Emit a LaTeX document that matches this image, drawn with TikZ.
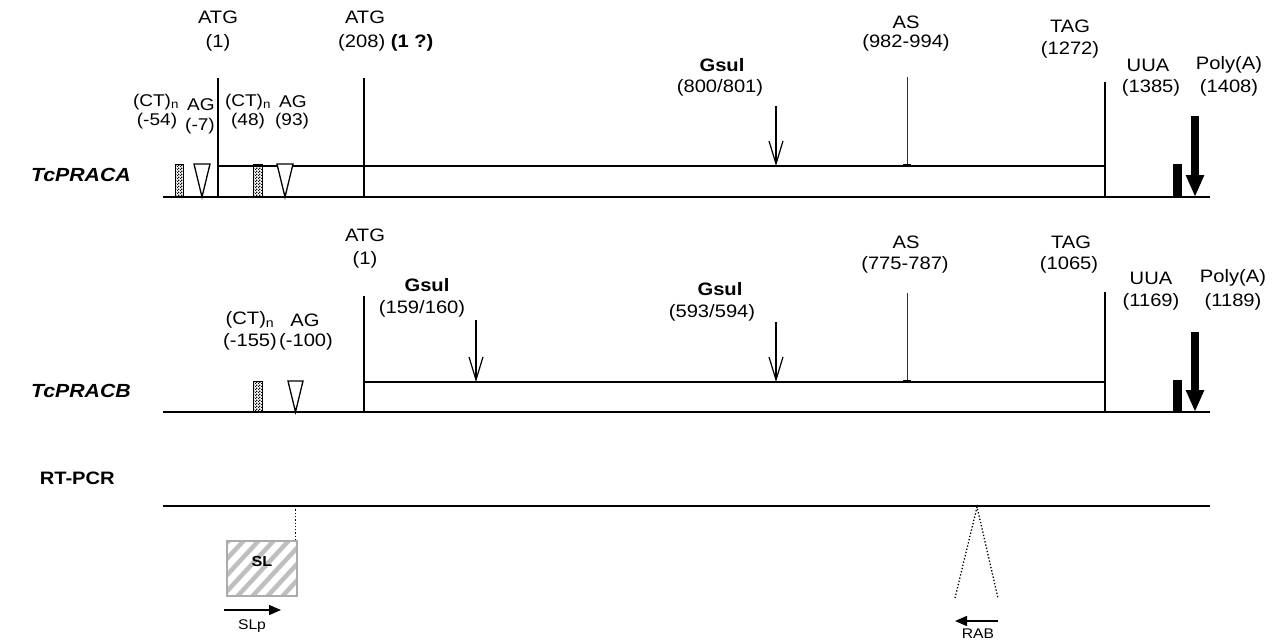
\documentclass[tikz,border=0pt]{standalone}
\usepackage{fontspec}
\setmainfont{Liberation Sans}[FakeStretch=1.12]
\usetikzlibrary{arrows.meta,patterns}
\pgfdeclarepatternformonly{finecheck}{\pgfqpoint{0pt}{0pt}}{\pgfqpoint{3pt}{3pt}}{\pgfqpoint{3pt}{3pt}}{%
  \pgfpathrectangle{\pgfqpoint{0pt}{0pt}}{\pgfqpoint{1.5pt}{1.5pt}}%
  \pgfpathrectangle{\pgfqpoint{1.5pt}{1.5pt}}{\pgfqpoint{1.5pt}{1.5pt}}%
  \pgfusepath{fill}}
\begin{document}
\begin{tikzpicture}[x=1pt,y=-1pt,
  lbl/.style={inner sep=0pt, font=\fontsize{18}{20}\selectfont},
  slbl/.style={inner sep=0pt, font=\fontsize{17}{19}\selectfont},
  blbl/.style={inner sep=0pt, font=\fontsize{18}{20}\selectfont\bfseries},
  gene/.style={inner sep=0pt, anchor=east, font=\fontsize{19}{21}\selectfont\bfseries\itshape},
  rowlbl/.style={inner sep=0pt, anchor=east, font=\fontsize{18}{20}\selectfont\bfseries},
  small/.style={inner sep=0pt, font=\fontsize{14}{16}\selectfont},
  sbold/.style={inner sep=0pt, font=\fontsize{14.5}{16}\selectfont\bfseries},
  baseln/.style={line width=2pt},
  boxln/.style={line width=1.8pt},
  vline/.style={line width=1.5pt},
  asline/.style={line width=1pt, black!80},
  gsarrow/.style={line width=1.2pt, -{Straight Barb[length=23pt,width=14pt]}},
  polyarrow/.style={line width=8pt, -{Triangle[length=22pt,width=17pt]}},
  checker/.style={pattern=finecheck, draw=black, line width=0.5pt},
  agtri/.style={line width=1.3pt, fill=white},
  dotln/.style={dotted, line width=1.3pt},
  primer/.style={line width=1.5pt, -{Triangle[length=12pt,width=10pt]}}
]
\useasboundingbox (0,0) rectangle (1279,641);

% ---------------- TcPRACA ----------------
\node[gene] (geneA) at (131,175) {TcPRACA};
\draw[baseln] (163,197) -- (218,197);
\draw[boxln] (218,166) rectangle (1105,197);
\draw[baseln] (1105,197) -- (1210,197);
\coordinate (atgA1t) at (218,78); \coordinate (atgA1b) at (218,197);
\coordinate (atgA2t) at (364,78); \coordinate (atgA2b) at (364,197);
\draw[vline] (atgA1t) -- (atgA1b);
\draw[vline] (atgA2t) -- (atgA2b);
\node[lbl] (tA1) at (218,17) {ATG};
\node[lbl] (tA1n) at (218,43) {(1)};
\node[lbl] (tA2) at (365,17) {ATG};
\node[lbl, anchor=west] (tA2n) at (338,43) {(208) \textbf{(1 ?)}};
\path[checker] (175,164) rectangle (183,197);
\draw[agtri] (194,164) -- (210,164) -- (202,197) -- cycle;
\path[checker] (253,164) rectangle (262,197);
\draw[agtri] (277,164) -- (293,164) -- (285,197) -- cycle;
\node[slbl] (ctA1) at (156,102) {(CT)\textsubscript{n}};
\node[slbl] (ctA1n) at (157,121) {(-54)};
\node[slbl] (agA1) at (201,105) {AG};
\node[slbl] (agA1n) at (200,126) {(-7)};
\node[slbl] (ctA2) at (248,102) {(CT)\textsubscript{n}};
\node[slbl] (ctA2n) at (248,121) {(48)};
\node[slbl] (agA2) at (293,102) {AG};
\node[slbl] (agA2n) at (292,121) {(93)};
\coordinate (gsA1t) at (776,106); \coordinate (gsA1b) at (776,166);
\draw[gsarrow] (gsA1t) -- (gsA1b);
\node[blbl] (gA1) at (722,65) {Gsul};
\node[lbl] (gA1n) at (720,88) {(800/801)};
\coordinate (asAt) at (907,77); \coordinate (asAb) at (907,166);
\draw[asline] (asAt) -- (asAb);
\draw[line width=3pt] (903,165) -- (911,165);
\node[lbl] (asA) at (906,22) {AS};
\node[lbl] (asAn) at (906,43) {(982-994)};
\coordinate (tagAt) at (1105,82); \coordinate (tagAb) at (1105,197);
\draw[vline] (tagAt) -- (tagAb);
\node[lbl] (tagA) at (1070,26) {TAG};
\node[lbl] (tagAn) at (1070,50) {(1272)};
\fill (1173,164) rectangle (1182,197);
\coordinate (polyAt) at (1195,116); \coordinate (polyAb) at (1195,197);
\draw[polyarrow] (polyAt) -- (polyAb);
\node[lbl] (uuaA) at (1148,65) {UUA};
\node[lbl] (uuaAn) at (1151,88) {(1385)};
\node[lbl] (polyA) at (1229,65) {Poly(A)};
\node[lbl] (polyAn) at (1229,88) {(1408)};

% ---------------- TcPRACB ----------------
\node[gene] (geneB) at (131,391) {TcPRACB};
\draw[baseln] (163,412) -- (364,412);
\draw[boxln] (364,382) rectangle (1105,412);
\draw[baseln] (1105,412) -- (1210,412);
\coordinate (atgBt) at (364,296); \coordinate (atgBb) at (364,412);
\draw[vline] (atgBt) -- (atgBb);
\node[lbl] (tB1) at (365,235) {ATG};
\node[lbl] (tB1n) at (365,260) {(1)};
\path[checker] (253,381) rectangle (262,412);
\draw[agtri] (288,381) -- (303,381) -- (295.5,412) -- cycle;
\node[lbl] (ctB) at (250,320) {(CT)\textsubscript{n}};
\node[lbl] (ctBn) at (250,342) {(-155)};
\node[lbl] (agB) at (305,320) {AG};
\node[lbl] (agBn) at (306,342) {(-100)};
\coordinate (gsB1t) at (476,320); \coordinate (gsB1b) at (476,382);
\draw[gsarrow] (gsB1t) -- (gsB1b);
\node[blbl] (gB1) at (427,285) {Gsul};
\node[lbl] (gB1n) at (422,309) {(159/160)};
\coordinate (gsB2t) at (776,322); \coordinate (gsB2b) at (776,382);
\draw[gsarrow] (gsB2t) -- (gsB2b);
\node[blbl] (gB2) at (720,289) {Gsul};
\node[lbl] (gB2n) at (712,313) {(593/594)};
\coordinate (asBt) at (907,293); \coordinate (asBb) at (907,382);
\draw[asline] (asBt) -- (asBb);
\draw[line width=3pt] (903,381) -- (911,381);
\node[lbl] (asB) at (906,242) {AS};
\node[lbl] (asBn) at (905,265) {(775-787)};
\coordinate (tagBt) at (1105,292); \coordinate (tagBb) at (1105,412);
\draw[vline] (tagBt) -- (tagBb);
\node[lbl] (tagB) at (1071,242) {TAG};
\node[lbl] (tagBn) at (1069,265) {(1065)};
\fill (1173,380) rectangle (1182,412);
\coordinate (polyBt) at (1195,332); \coordinate (polyBb) at (1195,412);
\draw[polyarrow] (polyBt) -- (polyBb);
\node[lbl] (uuaB) at (1151,278) {UUA};
\node[lbl] (uuaBn) at (1151,302) {(1169)};
\node[lbl] (polyB) at (1233,278) {Poly(A)};
\node[lbl] (polyBn) at (1233,302) {(1189)};

% ---------------- RT-PCR ----------------
\node[rowlbl] (rt) at (115,478) {RT-PCR};
\coordinate (rtL) at (163,506); \coordinate (rtR) at (1210,506);
\draw[baseln] (rtL) -- (rtR);
\coordinate (slTop) at (295.5,506); \coordinate (slCorner) at (295.5,541);
\draw[dotln] (slTop) -- (slCorner);
\begin{scope}
  \clip (227,541) rectangle (297,596);
  \foreach \k in {-84,-69,...,96}
    \draw[gray!50, line width=4.5pt] ({227+\k},601) -- ({227+\k+60},536);
\end{scope}
\draw[gray!65, line width=2pt] (227,541) rectangle (297,596);
\node[sbold] (sl) at (262,561) {SL};
\coordinate (slpL) at (224,610); \coordinate (slpR) at (281,610);
\draw[primer] (slpL) -- (slpR);
\node[small] (slp) at (252,626) {SLp};
\coordinate (coneL) at (955,598); \coordinate (coneA) at (977,507); \coordinate (coneR) at (998,598);
\draw[dotln] (coneL) -- (coneA) -- (coneR);
\coordinate (rabR) at (998,621); \coordinate (rabL) at (955,621);
\draw[primer] (rabR) -- (rabL);
\node[small] (rab) at (978,634) {RAB};
\end{tikzpicture}
\end{document}
